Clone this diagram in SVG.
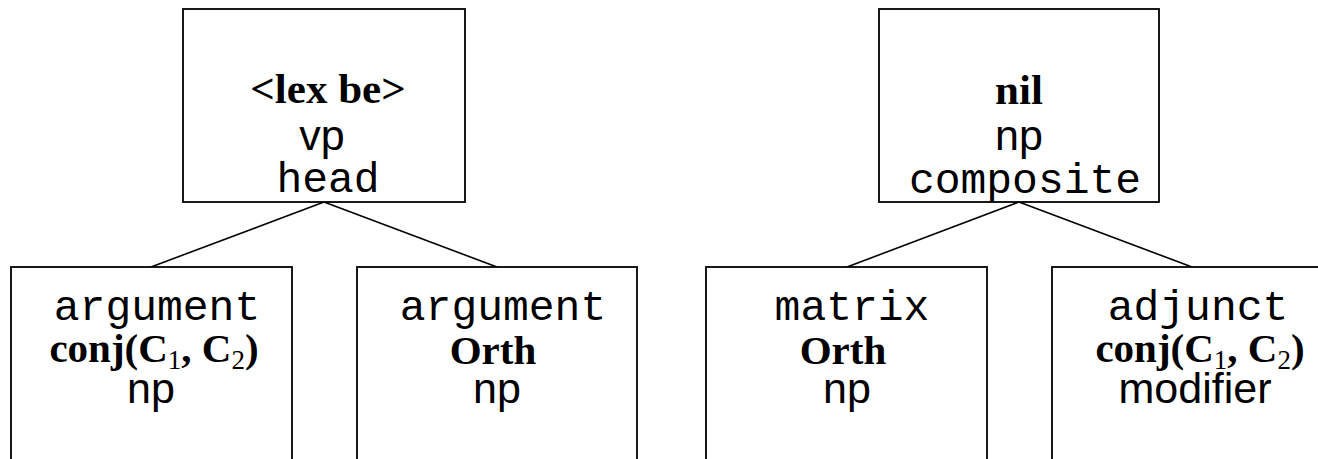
<svg xmlns="http://www.w3.org/2000/svg" width="1318" height="459" viewBox="0 0 1318 459">
<style>
.box{fill:#fff;stroke:#000;stroke-width:1.8}
.edge{stroke:#000;stroke-width:1.6;fill:none}
text{fill:#000;text-anchor:middle}
.b{font-family:"Liberation Serif","Times New Roman",serif;font-weight:bold;font-size:43px}
.bs{font-family:"Liberation Serif","Times New Roman",serif;font-weight:bold;font-size:41px}
.sub{font-size:27px;font-weight:normal}
.s{font-family:"Liberation Sans",Arial,sans-serif;font-size:43px;font-weight:normal}
.m{font-family:"Liberation Mono","Courier New",monospace;font-size:43px;font-weight:normal}
</style>
<rect width="1318" height="459" fill="#fff"/>
<g id="connectors">
<line class="edge" x1="324" y1="202" x2="151" y2="267"/>
<line class="edge" x1="324" y1="202" x2="497" y2="267"/>
<line class="edge" x1="1019" y1="202" x2="847" y2="267"/>
<line class="edge" x1="1019" y1="202" x2="1192" y2="267"/>
</g>
<g id="node-lexbe">
<rect class="box" x="183" y="9" width="282" height="193"/>
<text><tspan class="b" x="328" y="103">&lt;lex be&gt;</tspan><tspan class="s" x="322" y="150">vp</tspan><tspan class="m" x="328" y="192">head</tspan></text>
</g>
<g id="node-nil">
<rect class="box" x="879" y="9" width="280" height="193"/>
<text><tspan class="b" x="1019" y="104">nil</tspan><tspan class="s" x="1019" y="150">np</tspan><tspan class="m" x="1025" y="193">composite</tspan></text>
</g>
<g id="node-arg1">
<rect class="box" x="11" y="267" width="281" height="210"/>
<text><tspan class="m" x="157" y="320">argument</tspan><tspan class="bs" x="154" y="362">conj(C<tspan class="sub" dy="7">1</tspan><tspan dy="-7">, C</tspan><tspan class="sub" dy="7">2</tspan><tspan dy="-7">)</tspan></tspan><tspan class="s" x="151" y="403">np</tspan></text>
</g>
<g id="node-arg2">
<rect class="box" x="357" y="267" width="280" height="210"/>
<text><tspan class="m" x="503" y="320">argument</tspan><tspan class="bs" x="493" y="364">Orth</tspan><tspan class="s" x="497" y="403">np</tspan></text>
</g>
<g id="node-matrix">
<rect class="box" x="706" y="267" width="281" height="210"/>
<text><tspan class="m" x="852" y="320">matrix</tspan><tspan class="bs" x="843" y="364">Orth</tspan><tspan class="s" x="847" y="403">np</tspan></text>
</g>
<g id="node-adjunct">
<rect class="box" x="1052" y="267" width="290" height="210"/>
<text><tspan class="m" x="1198" y="320">adjunct</tspan><tspan class="bs" x="1200" y="362">conj(C<tspan class="sub" dy="7">1</tspan><tspan dy="-7">, C</tspan><tspan class="sub" dy="7">2</tspan><tspan dy="-7">)</tspan></tspan><tspan class="s" x="1195" y="403">modifier</tspan></text>
</g>
</svg>
